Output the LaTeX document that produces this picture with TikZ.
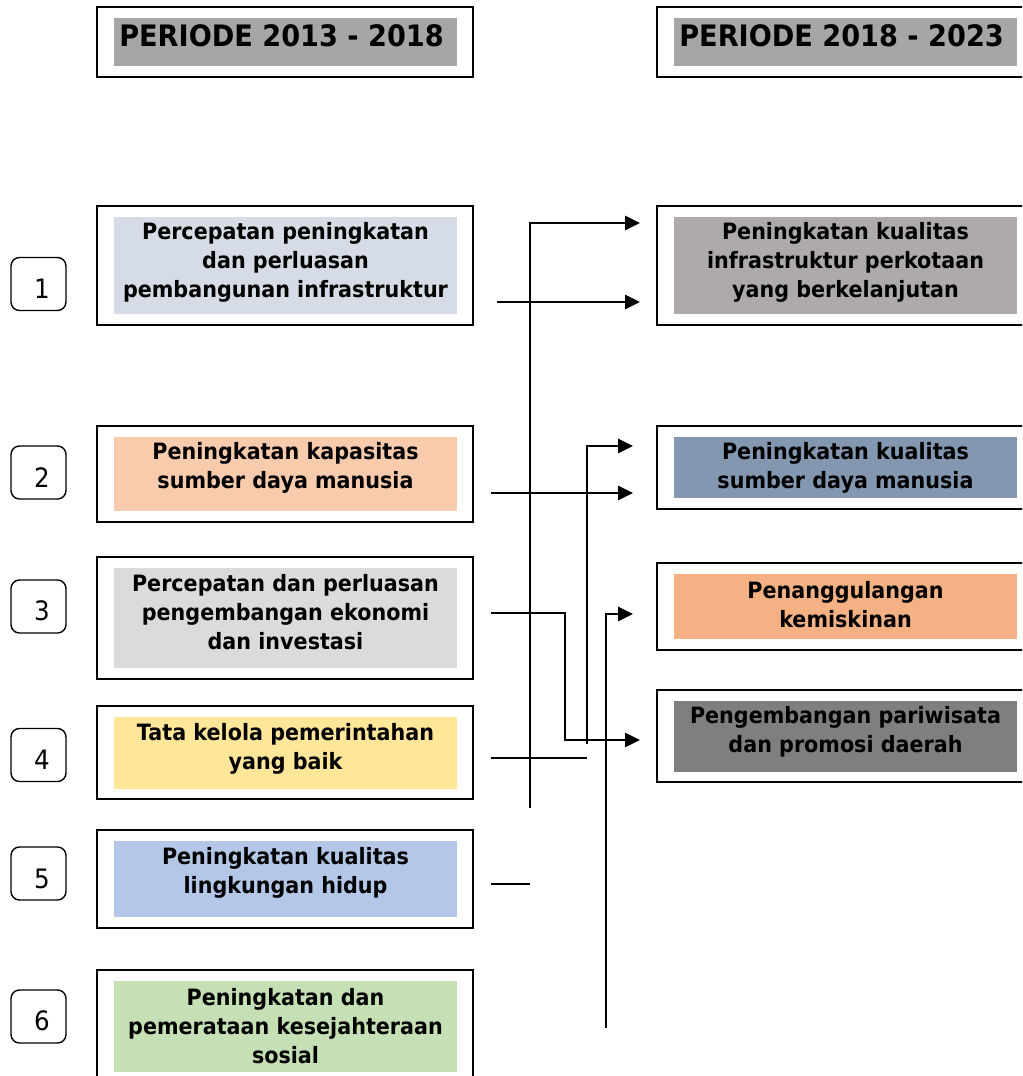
\documentclass[tikz,border=0pt]{standalone}
\usepackage{fontspec}
\setmainfont[FakeStretch=0.92]{DejaVu Sans}
\usepackage{tikz}
\usetikzlibrary{arrows.meta}

\definecolor{abuJudul}{HTML}{A6A6A6}
\definecolor{biruMuda}{HTML}{D6DCE5}
\definecolor{oranyeMuda}{HTML}{F8CBAD}
\definecolor{abuMuda}{HTML}{DBDBDB}
\definecolor{kuningMuda}{HTML}{FFE699}
\definecolor{biruSedang}{HTML}{B4C7E7}
\definecolor{hijauMuda}{HTML}{C5E0B4}
\definecolor{abuCoklat}{HTML}{AEAAAA}
\definecolor{biruAbu}{HTML}{8497B0}
\definecolor{oranye}{HTML}{F4B183}
\definecolor{abuTua}{HTML}{7F7F7F}

% ukuran dalam piksel gambar: 1 px = 0.25mm
\tikzset{
  luar/.style={draw, line width=1.5pt, minimum width=94mm, inner sep=0pt},
  isi/.style={inner sep=0pt, minimum width=85.75mm},
  teks/.style={inner sep=0pt, align=center, font=\bfseries\fontsize{16}{20.6}\selectfont},
  judul/.style={inner sep=0pt, anchor=west, font=\bfseries\fontsize{21}{24}\selectfont},
  nomor/.style={draw, line width=1pt, rounded corners=6pt, minimum width=13.75mm, minimum height=13.25mm, inner sep=0pt},
  angka/.style={inner sep=0pt, font=\fontsize{19}{22}\selectfont},
  garis/.style={line width=1.4pt},
  panah/.style={line width=1.4pt, -{Triangle[length=10.5pt, width=10pt]}}
}

\begin{document}
\begin{tikzpicture}[x=0.25mm, y=-0.25mm]
    \useasboundingbox (0,0) rectangle (1022,1076);
    \clip (0,0) rectangle (1022,1076);

    % judul periode
    \node[luar, minimum height=17.5mm] (judulA) at (285,42) {};
    \node[isi, fill=abuJudul, minimum height=12mm] (judulAisi) at (285.5,42) {};
    \node[judul] (judulAteks) at (119,36) {PERIODE 2013 - 2018};
    \node[luar, minimum height=17.5mm] (judulB) at (845,42) {};
    \node[isi, fill=abuJudul, minimum height=12mm] (judulBisi) at (845.5,42) {};
    \node[judul] (judulBteks) at (679,36) {PERIODE 2018 - 2023};

    % kiri: 2013 - 2018
    \node[nomor] (no1) at (38.5,284) {};
    \node[angka] (angka1) at (42,289) {1};
    \node[luar, minimum height=29.75mm] (kiri1) at (285,265.5) {};
    \node[isi, fill=biruMuda, minimum height=24.25mm] (isi1) at (285.5,265.5) {};
    \node[teks] (teks1) at (285.5,262) {Percepatan peningkatan\\dan perluasan\\pembangunan infrastruktur};

    \node[nomor] (no2) at (38.5,472.5) {};
    \node[angka] (angka2) at (42,478) {2};
    \node[luar, minimum height=24mm] (kiri2) at (285,474) {};
    \node[isi, fill=oranyeMuda, minimum height=18.5mm] (isi2) at (285.5,474) {};
    \node[teks] (teks2) at (285.5,467.5) {Peningkatan kapasitas\\sumber daya manusia};

    \node[nomor] (no3) at (38.5,606.5) {};
    \node[angka] (angka3) at (42,611) {3};
    \node[luar, minimum height=30.5mm] (kiri3) at (285,618) {};
    \node[isi, fill=abuMuda, minimum height=25mm] (isi3) at (285.5,618) {};
    \node[teks] (teks3) at (285.5,612) {Percepatan dan perluasan\\pengembangan ekonomi\\dan investasi};

    \node[nomor] (no4) at (38.5,755) {};
    \node[angka] (angka4) at (42,760) {4};
    \node[luar, minimum height=23.25mm] (kiri4) at (285,752.5) {};
    \node[isi, fill=kuningMuda, minimum height=18mm] (isi4) at (285.5,753) {};
    \node[teks] (teks4) at (285.5,749) {Tata kelola pemerintahan\\yang baik};

    \node[nomor] (no5) at (38.5,873.5) {};
    \node[angka] (angka5) at (42,879) {5};
    \node[luar, minimum height=24.5mm] (kiri5) at (285,879) {};
    \node[isi, fill=biruSedang, minimum height=19mm] (isi5) at (285.5,879) {};
    \node[teks] (teks5) at (285.5,872.5) {Peningkatan kualitas\\lingkungan hidup};

    \node[nomor] (no6) at (38.5,1016.5) {};
    \node[angka] (angka6) at (42,1021) {6};
    \node[luar, minimum height=28.5mm] (kiri6) at (285,1027) {};
    \node[isi, fill=hijauMuda, minimum height=22.75mm] (isi6) at (285.5,1026.5) {};
    \node[teks] (teks6) at (285.5,1026.5) {Peningkatan dan\\pemerataan kesejahteraan\\sosial};

    % kanan: 2018 - 2023
    \node[luar, minimum height=29.75mm] (kanan1) at (845,265.5) {};
    \node[isi, fill=abuCoklat, minimum height=24.25mm] (isiK1) at (845.5,265.5) {};
    \node[teks] (teksK1) at (845.5,262) {Peningkatan kualitas\\infrastruktur perkotaan\\yang berkelanjutan};

    \node[luar, minimum height=20.75mm] (kanan2) at (845,467.5) {};
    \node[isi, fill=biruAbu, minimum height=15.25mm] (isiK2) at (845.5,467.5) {};
    \node[teks] (teksK2) at (845.5,467.5) {Peningkatan kualitas\\sumber daya manusia};

    \node[luar, minimum height=21.75mm] (kanan3) at (845,606.5) {};
    \node[isi, fill=oranye, minimum height=16.25mm] (isiK3) at (845.5,606.5) {};
    \node[teks] (teksK3) at (845.5,604.5) {Penanggulangan\\kemiskinan};

    \node[luar, minimum height=23mm] (kanan4) at (845,736) {};
    \node[isi, fill=abuTua, minimum height=17.75mm] (isiK4) at (845.5,736.5) {};
    \node[teks] (teksK4) at (845.5,731.5) {Pengembangan pariwisata\\dan promosi daerah};

    % titik ujung penghubung
    \coordinate (bawahA) at (530,808);
    \coordinate (ujungK1a) at (640,223);
    \coordinate (mulai1) at (497,302);
    \coordinate (ujungK1b) at (640,302);
    \coordinate (mulai2) at (491,493);
    \coordinate (ujungK2b) at (633,493);
    \coordinate (bawahB) at (587,744);
    \coordinate (ujungK2a) at (633,446);
    \coordinate (mulai3) at (491,613);
    \coordinate (tekuk3) at (565,740);
    \coordinate (ujungK4) at (640,740);
    \coordinate (mulai4) at (491,758);
    \coordinate (akhir4) at (587,758);
    \coordinate (mulai5) at (491,884);
    \coordinate (akhir5) at (530,884);
    \coordinate (bawahC) at (606,1028);
    \coordinate (ujungK3) at (633,614);

    % penghubung
    \draw[panah] (bawahA) |- (ujungK1a);
    \draw[panah] (mulai1) -- (ujungK1b);
    \draw[panah] (mulai2) -- (ujungK2b);
    \draw[panah] (bawahB) |- (ujungK2a);
    \draw[panah] (mulai3) -| (tekuk3) -- (ujungK4);
    \draw[garis] (mulai4) -- (akhir4);
    \draw[garis] (mulai5) -- (akhir5);
    \draw[panah] (bawahC) |- (ujungK3);
\end{tikzpicture}
\end{document}
